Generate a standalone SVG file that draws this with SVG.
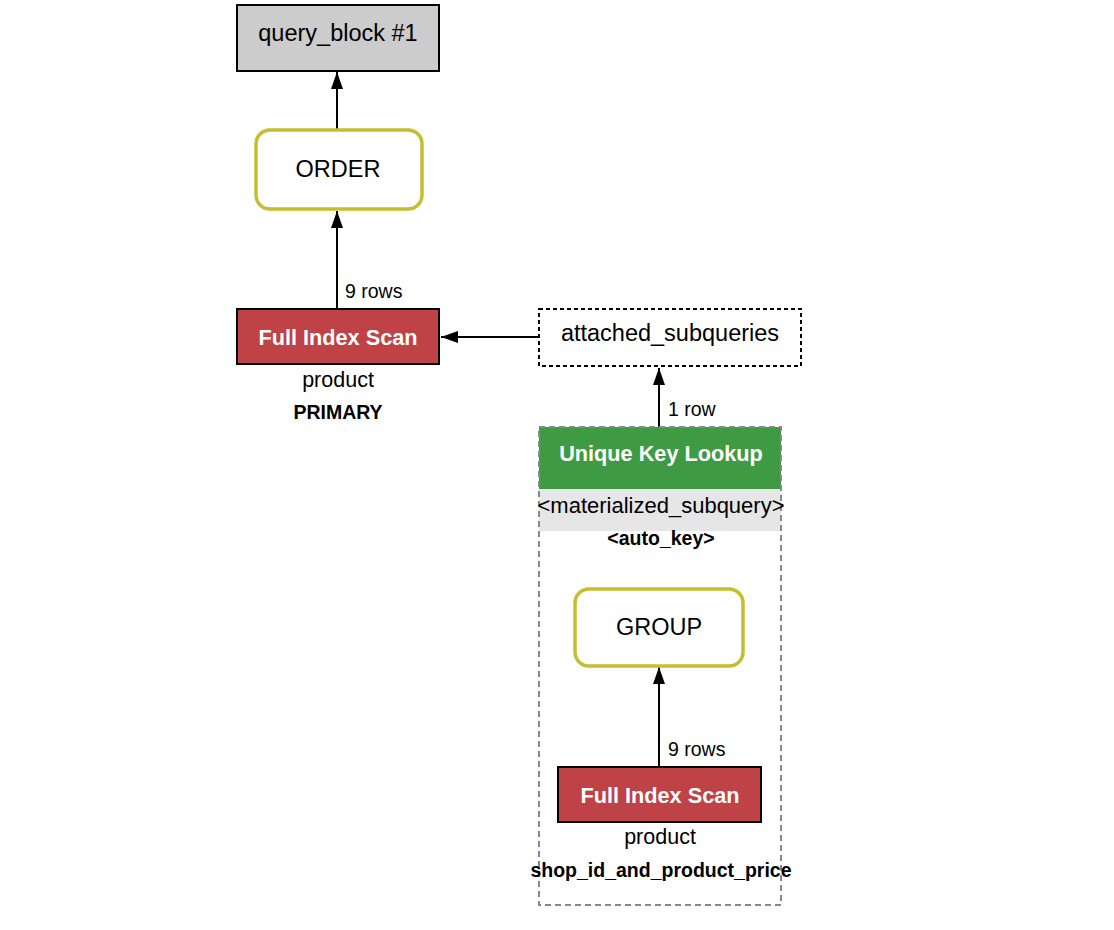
<svg xmlns="http://www.w3.org/2000/svg" width="1114" height="930" viewBox="0 0 1114 930">
<style>
text{font-family:"Liberation Sans",Arial,sans-serif;fill:#000;text-anchor:middle}
.big{font-size:23.5px}
.hdr{font-size:21.7px;font-weight:bold;fill:#fff}
.sm{font-size:21.5px}
.mat{font-size:22px}
.lbl{font-size:19.5px;text-anchor:start}
.bsm{font-size:19.5px;font-weight:bold}
.op{fill:#fff;stroke:#c3bf2e;stroke-width:3.5}
.scan{fill:#be4246;stroke:#000;stroke-width:2}
.edge{stroke:#000;stroke-width:2;fill:none;marker-end:url(#ah)}
</style>
<defs>
<marker id="ah" viewBox="0 0 17 12" refX="17" refY="6" markerWidth="17" markerHeight="12" markerUnits="userSpaceOnUse" orient="auto">
<path d="M0,0 L17,6 L0,12 Z" fill="#000"/>
</marker>
</defs>
<rect width="1114" height="930" fill="#fff"/>
<g id="connectors">
<path class="edge" d="M337,130 L337,72"/>
<path class="edge" d="M337,309 L337,211"/>
<path class="edge" d="M538,337 L441,337"/>
<path class="edge" d="M659,427 L659,368"/>
<path class="edge" d="M659,767 L659,667"/>
<text class="lbl" x="345" y="298">9 rows</text>
<text class="lbl" x="668" y="416">1 row</text>
<text class="lbl" x="668" y="756">9 rows</text>
</g>
<g id="query_block">
<rect x="237" y="5" width="202" height="66" fill="#cccccc" stroke="#000" stroke-width="2"/>
<text class="big" x="338" y="41">query_block #1</text>
</g>
<g id="order">
<rect class="op" x="256" y="130" width="166" height="79" rx="14"/>
<text class="big" x="338" y="177">ORDER</text>
</g>
<g id="scan1">
<rect class="scan" x="237" y="309" width="202" height="55"/>
<text class="hdr" x="338" y="345">Full Index Scan</text>
<text class="sm" x="338" y="387">product</text>
<text class="bsm" x="338" y="419">PRIMARY</text>
</g>
<g id="attached_subqueries">
<rect x="539" y="309" width="262" height="57" fill="#fff" stroke="#000" stroke-width="2" stroke-dasharray="4,3"/>
<text class="big" x="670" y="341">attached_subqueries</text>
</g>
<g id="subquery">
<rect x="539" y="427" width="242" height="62" fill="#3f9a44"/>
<rect x="539" y="489" width="242" height="42" fill="#e6e6e6"/>
<rect x="539" y="427" width="242" height="478" fill="none" stroke="#888" stroke-width="2" stroke-dasharray="6,4"/>
<text class="hdr" x="661" y="461">Unique Key Lookup</text>
<text class="mat" x="661" y="513">&lt;materialized_subquery&gt;</text>
<text class="bsm" x="661" y="545">&lt;auto_key&gt;</text>
</g>
<g id="group">
<rect class="op" x="575" y="589" width="168" height="77" rx="14"/>
<text class="big" x="659" y="635">GROUP</text>
</g>
<g id="scan2">
<rect class="scan" x="558" y="767" width="203" height="55"/>
<text class="hdr" x="660" y="803">Full Index Scan</text>
<text class="sm" x="660" y="844">product</text>
<text class="bsm" x="661" y="877">shop_id_and_product_price</text>
</g>
</svg>
